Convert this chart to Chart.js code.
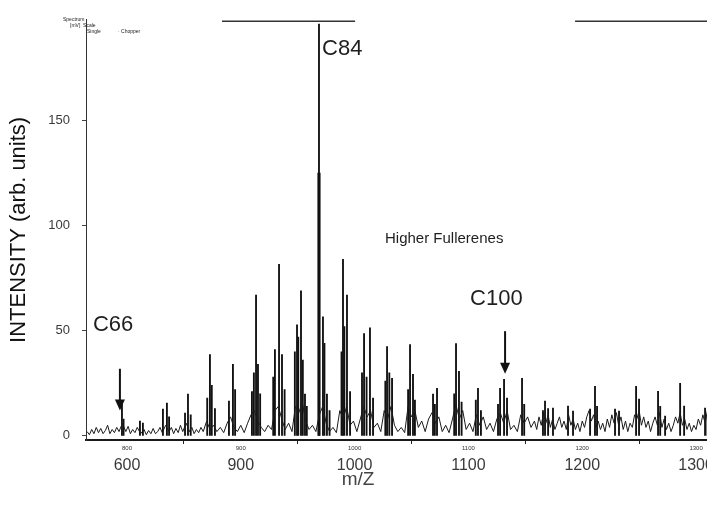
<!DOCTYPE html>
<html>
<head>
<meta charset="utf-8">
<script src="https://cdn.jsdelivr.net/npm/chart.js@4"></script>
<style>
  body { margin: 0; background: #fff; }
  #wrap { width: 707px; height: 507px; overflow: hidden; position: relative; }
</style>
</head>
<body>
<div id="wrap"><canvas id="spectrum" width="745" height="507"></canvas></div>
<script>
// axis ticks as printed on the figure
const xTickValues = [800, 900, 1000, 1100, 1200, 1300];
const xTickLabels = ['600', '900', '1000', '1100', '1200', '1300'];
const xSmallLabels = ['800', '900', '1000', '1100', '1200', '1300'];
const yTickValues = [0, 50, 100, 150];

// peak sticks (m/z, intensity)
const peakMz = [795.6, 797, 811.4, 814, 831.6, 835.1, 837, 851, 853.6, 856,
  870.5, 872.9, 874.5, 877.3, 889.6, 893.1, 895, 909.8, 911.5, 913.4, 915.1, 917,
  928.5, 930, 933.6, 936.2, 938.5, 947.5, 949.4, 950.5, 952.9, 954.5, 956.4, 958,
  968.7, 972.2, 973.5, 975.7, 978, 988.5, 989.8, 991, 993.3, 996,
  1006.5, 1008.3, 1010.5, 1013.5, 1016.2, 1027, 1028.5, 1030.5, 1032.9,
  1047, 1048.7, 1051.3, 1053, 1068.9, 1070.5, 1072.4, 1087.5, 1089.1, 1091.7, 1094,
  1106.5, 1108.4, 1111, 1126, 1127.8, 1131.3, 1133.9, 1147.1, 1149,
  1165.5, 1167.3, 1170, 1174.3, 1187.5, 1191.9, 1206.9, 1211.2, 1213,
  1228.8, 1232.3, 1247.3, 1249.9, 1266.6, 1268.5, 1272.8, 1286, 1289.5, 1307.9, 1310];
const peakInt = [15, 8, 7, 6, 12.7, 15.6, 9, 10.8, 19.8, 10,
  18, 38.7, 24, 13, 16.5, 34, 22, 21, 30, 67, 34, 20,
  28, 41, 81.6, 38.7, 22, 40, 52.8, 47, 69, 36, 19.8, 14,
  196, 56.6, 44, 19.8, 12, 40, 84, 52, 67, 21,
  30, 48.6, 28, 51.4, 18, 26, 42.5, 30, 27.4,
  22, 43.4, 29.2, 17, 19.8, 15, 22.6, 20, 43.9, 30.7, 16,
  17, 22.6, 12, 15, 22.6, 26.9, 18, 27.4, 15,
  12, 16.5, 13, 13.2, 14.2, 11.8, 12.7, 23.6, 14,
  12.7, 11.8, 23.6, 17.5, 21.2, 14, 9.4, 25, 14.2, 13.2, 10];

// thick lower part of the C84 line
const coreMz = [968.7];
const coreInt = [125];

// baseline noise trace
const noiseMz = [765, 767, 769, 771, 773, 775, 777, 779, 781, 783, 785, 787, 789, 791, 793,
  796, 799, 801, 803, 805, 807, 809, 812, 815, 817, 819, 821, 823, 825, 827, 829, 831, 834,
  837, 839, 841, 843, 845, 847, 849, 852, 855, 857, 859, 861, 863, 865, 867, 870, 873, 876,
  879, 882, 885, 888, 891, 894, 897, 900, 903, 906, 909, 912, 915, 918,
  921, 924, 927, 930, 933, 936, 939, 942, 945, 948, 951, 954, 957, 960, 963, 966, 969, 972,
  975, 978, 981, 984, 987, 990, 993, 996, 999, 1002, 1005, 1008, 1011, 1014, 1017, 1020,
  1023, 1026, 1029, 1032, 1035, 1038, 1041, 1044, 1047, 1050, 1053, 1056, 1059, 1062, 1065,
  1068, 1071, 1074, 1077, 1080, 1083, 1086, 1089, 1092, 1095, 1098, 1101, 1104, 1107, 1110,
  1113, 1116, 1119, 1122, 1125, 1128, 1131, 1134, 1137, 1140, 1143, 1146, 1149, 1152, 1155,
  1158, 1160, 1162, 1164, 1166, 1168, 1170, 1172, 1174, 1176, 1178, 1180, 1182, 1184, 1186,
  1188, 1190, 1192, 1194, 1196, 1198, 1200, 1202, 1204, 1206, 1208, 1210, 1212, 1214, 1216,
  1218, 1220, 1222, 1224, 1226, 1228, 1230, 1232, 1234, 1236, 1238, 1240, 1242, 1244, 1246,
  1248, 1250, 1252, 1254, 1256, 1258, 1260, 1262, 1264, 1266, 1268, 1270, 1272, 1274, 1276,
  1278, 1280, 1282, 1284, 1286, 1288, 1290, 1292, 1294, 1296, 1298, 1300, 1302, 1304, 1306,
  1308, 1310, 1312, 1314, 1316];
const noiseInt = [2, 0.5, 3, 1, 4, 1.5, 3.5, 1, 2.5, 5, 1, 3, 1.5, 4, 2,
  6, 2, 4.5, 1, 3, 1.5, 4, 1, 3, 0.5, 2.5, 1, 3.5, 1, 2, 4, 1.5, 5,
  2, 4, 1, 3.5, 1.5, 5, 2, 6, 2, 4, 1, 3, 1.5, 4, 2, 7, 3, 5,
  2, 4, 1.5, 6, 9, 4, 2, 5, 1.5, 6, 10, 12, 7, 4,
  2, 5, 3, 12, 14, 8, 3, 6, 2, 14, 11, 16, 7, 3, 5, 2, 10, 14,
  6, 2, 4, 1.5, 12, 8, 14, 5, 7, 2, 8, 14, 9, 12, 4, 6,
  2, 12, 8, 14, 5, 2, 4, 1.5, 14, 9, 12, 4, 7, 2, 8,
  11, 6, 9, 2, 5, 1.5, 8, 15, 8, 12, 3, 6, 2, 10, 5,
  9, 3, 6, 2, 8, 11, 6, 12, 3, 5, 2, 10, 6, 9, 4,
  7, 3, 9, 5, 11, 6, 10, 4, 8, 3, 6, 9, 4, 7, 3,
  10, 5, 8, 3, 6, 2, 7, 4, 9, 12, 7, 10, 4, 7, 3,
  6, 2, 8, 4, 10, 6, 11, 5, 9, 3, 7, 2, 6, 4, 10,
  8, 12, 5, 9, 4, 7, 2, 6, 9, 5, 11, 4, 8, 3, 6,
  2, 5, 9, 6, 11, 5, 8, 3, 6, 2, 5, 3, 8, 5, 10,
  6, 12, 7, 9, 4];

// frame strokes at the top of the scan
const topLineMz = [[883.5, 1000.4], [1193.7, 1343]];
const topLineInt = 197.3;

// labels and arrows (m/z, intensity)
const labelText = ['C84', 'Higher Fullerenes', 'C100', 'C66'];
const labelMz = [971.4, 1026.7, 1101.4, 770.1];
const labelInt = [183.9, 93.5, 65.3, 52.6];
const labelSize = [22, 15, 22, 22];
const arrowMz = [793.8, 1132.2];
const arrowFrom = [31.9, 49.8];
const arrowTo = [12.1, 29.5];

const FONT = "'Liberation Sans', Arial, sans-serif";

const notes = {
  id: 'notes',
  afterDraw(chart) {
    const ctx = chart.ctx;
    const xs = chart.scales.x, ys = chart.scales.y;
    ctx.save();
    ctx.fillStyle = '#1e1e1e';
    ctx.textBaseline = 'middle';
    ctx.textAlign = 'left';
    labelText.forEach((t, i) => {
      ctx.font = labelSize[i] + 'px ' + FONT;
      ctx.fillText(t, xs.getPixelForValue(labelMz[i]), ys.getPixelForValue(labelInt[i]));
    });
    // arrows
    ctx.strokeStyle = '#111';
    ctx.fillStyle = '#111';
    ctx.lineWidth = 2;
    arrowMz.forEach((m, i) => {
      const x = xs.getPixelForValue(m);
      const y0 = ys.getPixelForValue(arrowFrom[i]);
      const y1 = ys.getPixelForValue(arrowTo[i]);
      ctx.beginPath();
      ctx.moveTo(x, y0);
      ctx.lineTo(x, y1 - 8);
      ctx.stroke();
      ctx.beginPath();
      ctx.moveTo(x - 5, y1 - 11);
      ctx.lineTo(x + 5, y1 - 11);
      ctx.lineTo(x, y1);
      ctx.closePath();
      ctx.fill();
    });
    // small scale labels printed under the axis line
    ctx.font = '6px ' + FONT;
    ctx.fillStyle = '#333';
    ctx.textAlign = 'center';
    xTickValues.forEach((v, i) => {
      ctx.fillText(xSmallLabels[i], xs.getPixelForValue(v), xs.top + 8);
    });
    // x title
    ctx.font = '19px ' + FONT;
    ctx.fillStyle = '#444';
    ctx.fillText('m/Z', xs.getPixelForValue(1003), 480);
    // header of the instrument plot
    ctx.font = '5px ' + FONT;
    ctx.textAlign = 'left';
    ctx.fillStyle = '#222';
    ctx.fillText('Spectrum', 63, 20);
    ctx.fillText('[mV]  Scale', 70, 26);
    ctx.fillText('Single', 87, 32);
    ctx.fillText('· Chopper', 118, 32);
    ctx.restore();
  }
};

const datasets = [
  {
    type: 'line',
    data: noiseMz.map((m, i) => ({ x: m, y: noiseInt[i] })),
    borderColor: '#1a1a1a',
    borderWidth: 1,
    pointRadius: 0,
    tension: 0
  },
  {
    type: 'bar',
    data: peakMz.map((m, i) => ({ x: m, y: peakInt[i] })),
    backgroundColor: '#111',
    barThickness: 1.2,
    grouped: false
  },
  {
    type: 'bar',
    data: coreMz.map((m, i) => ({ x: m, y: coreInt[i] })),
    backgroundColor: '#111',
    barThickness: 2.5,
    grouped: false
  }
];
topLineMz.forEach(seg => {
  datasets.push({
    type: 'line',
    data: seg.map(m => ({ x: m, y: topLineInt })),
    borderColor: '#333',
    borderWidth: 1.3,
    pointRadius: 0
  });
});

new Chart(document.getElementById('spectrum').getContext('2d'), {
  type: 'bar',
  data: { datasets: datasets },
  options: {
    responsive: false,
    animation: false,
    layout: { padding: { top: 10, left: 0, right: 0, bottom: 0 } },
    plugins: { legend: { display: false }, tooltip: { enabled: false } },
    scales: {
      x: {
        type: 'linear',
        offset: false,
        min: 764,
        max: 1343,
        afterBuildTicks: s => { s.ticks = xTickValues.map(v => ({ value: v })); },
        afterFit: s => { s.height = 67; },
        ticks: {
          autoSkip: false,
          maxRotation: 0,
          padding: 12,
          color: '#3a3a3a',
          font: { family: FONT, size: 16 },
          callback: v => xTickLabels[xTickValues.indexOf(v)]
        },
        grid: { display: true, drawOnChartArea: false, tickLength: 4, color: '#222' },
        border: { color: '#1a1a1a', width: 2 }
      },
      y: {
        min: -2,
        max: 198,
        afterBuildTicks: s => { s.ticks = yTickValues.map(v => ({ value: v })); },
        afterFit: s => { s.width = 86; },
        ticks: {
          padding: 12,
          color: '#3a3a3a',
          font: { family: FONT, size: 13 }
        },
        grid: { display: true, drawOnChartArea: false, tickLength: 4, color: '#444' },
        border: { color: '#333', width: 1 },
        title: {
          display: true,
          text: 'INTENSITY (arb. units)',
          color: '#111',
          font: { family: FONT, size: 22 },
          padding: { top: 6, bottom: 0 }
        }
      }
    }
  },
  plugins: [notes]
});
</script>
</body>
</html>
